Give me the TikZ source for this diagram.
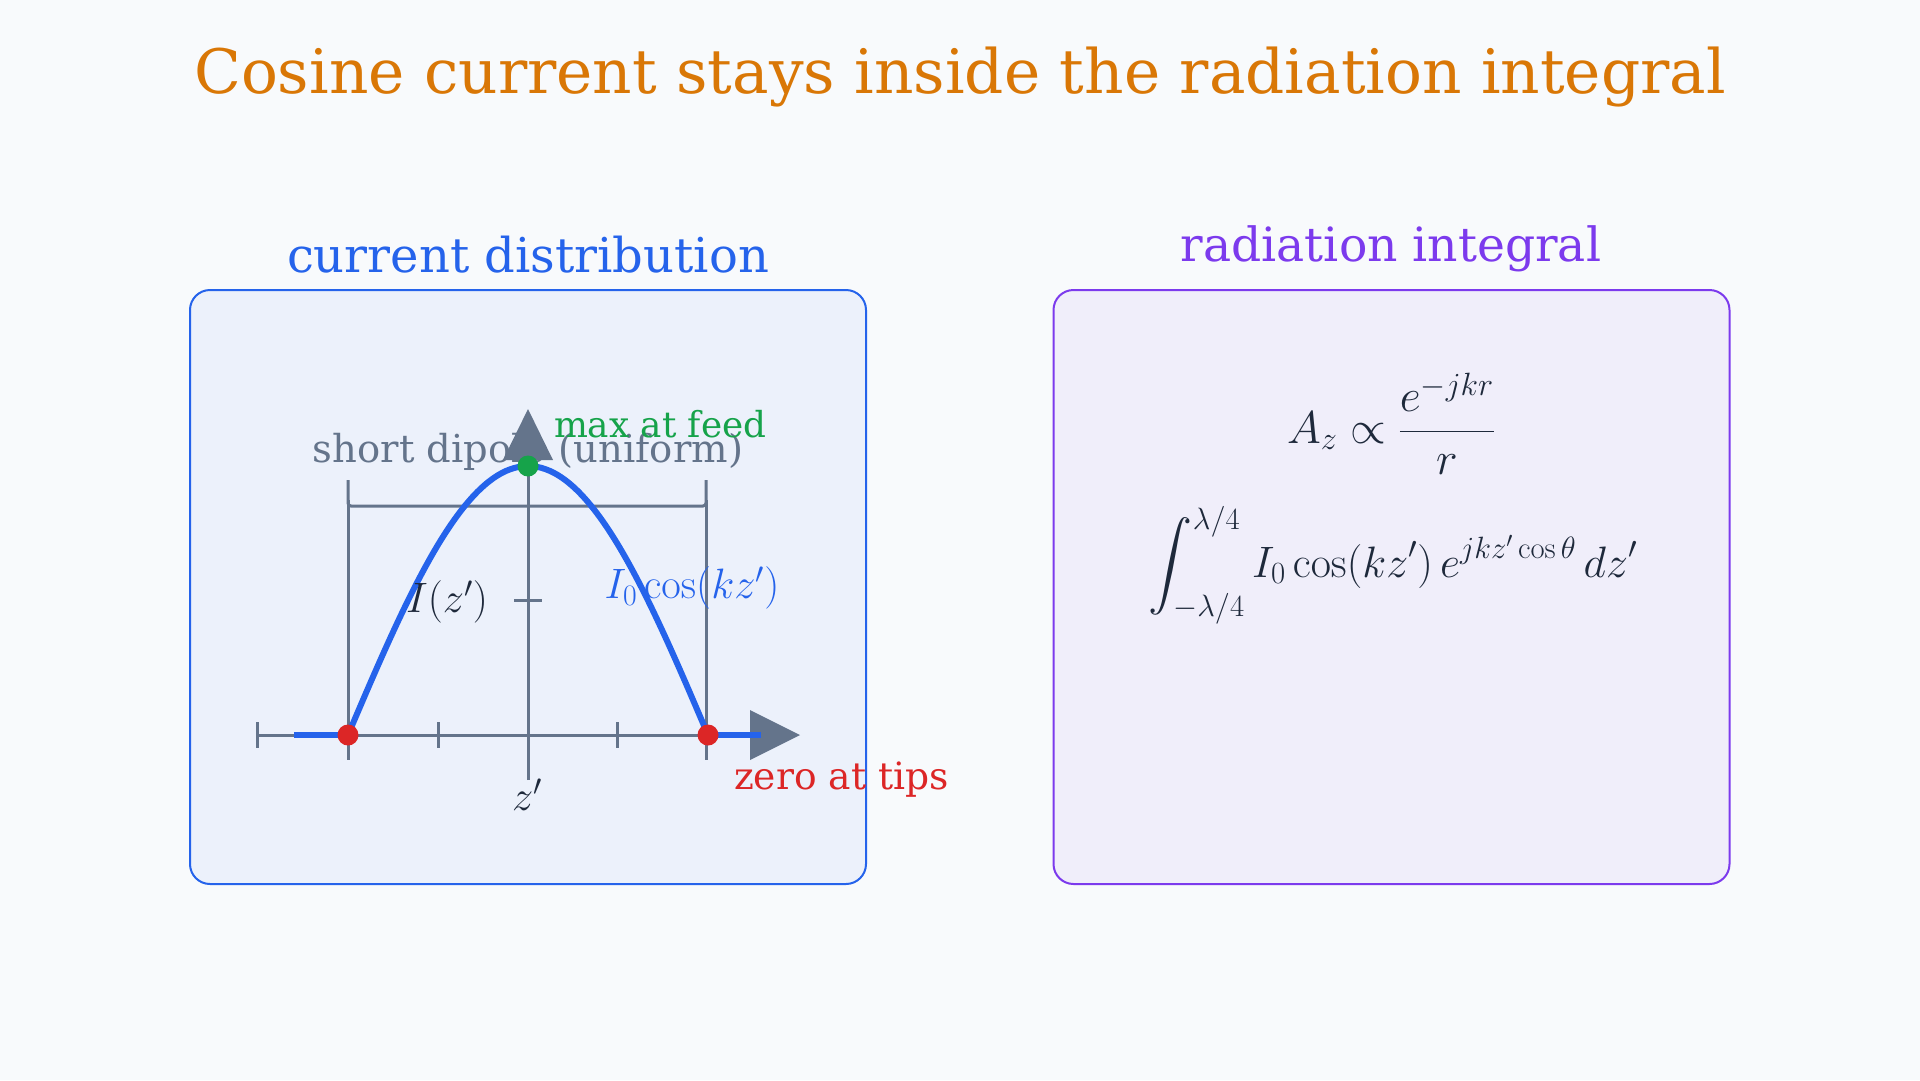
\RequirePackage{fix-cm}
\documentclass[tikz,border=0pt]{standalone}
\usepackage{amsmath}
\DeclareFontShape{OMX}{cmex}{m}{n}{<->cmex10}{}
\usepackage[no-math]{fontspec}
\setmainfont{DejaVu Serif}
\definecolor{cbg}{HTML}{F8FAFC}
\definecolor{corange}{HTML}{D97706}
\definecolor{cblue}{HTML}{2563EB}
\definecolor{cbluebg}{HTML}{ECF1FB}
\definecolor{cpurple}{HTML}{7C3AED}
\definecolor{cpurplebg}{HTML}{F0EEFA}
\definecolor{cgray}{HTML}{64748B}
\definecolor{cgreen}{HTML}{16A34A}
\definecolor{cred}{HTML}{DC2626}
\definecolor{cdark}{HTML}{1E293B}
\begin{document}
\begin{tikzpicture}[x=1pt,y=-1pt,
  lbl/.style={inner sep=0pt, outer sep=0pt},
  panel/.style={rounded corners=20pt, line width=2pt, minimum width=676pt, minimum height=594pt, inner sep=0pt},
  axisline/.style={draw=cgray, line width=3pt},
  curveline/.style={draw=cblue, line width=6pt},
  dot/.style={circle, inner sep=0pt, minimum size=21pt},
  bigfont/.style={font=\fontsize{61.3}{70}\selectfont},
  headfont/.style={font=\fontsize{48}{56}\selectfont},
  mathfont/.style={font=\fontsize{42.5}{50}\selectfont},
  eqfont/.style={font=\fontsize{44}{54}\selectfont}]
\fill[cbg] (0,0) rectangle (1920,1080);
\useasboundingbox (0,0) rectangle (1920,1080);

\node[lbl, anchor=base, text=corange, bigfont] (title) at (960,93) {Cosine current stays inside the radiation integral};

\node[panel, draw=cblue, fill=cbluebg] (lpanel) at (528,587) {};
\node[panel, draw=cpurple, fill=cpurplebg] (rpanel) at (1391.5,587) {};
\node[lbl, anchor=base, text=cblue, headfont] (ltitle) at (528,272) {current distribution};
\node[lbl, anchor=base, text=cpurple, font=\fontsize{47.2}{56}\selectfont] (rtitle) at (1391,261) {radiation integral};

% short dipole label and bracket
\node[lbl, anchor=base, text=cgray, font=\fontsize{38.5}{44}\selectfont] (short) at (528,462) {short dipole (uniform)};
\draw[axisline, rounded corners=3pt] (348,480) -- (348,506) -- (706,506) -- (706,480);
\draw[axisline] (348,500) -- (348,760);
\draw[axisline] (706,500) -- (706,760);

% axes
\draw[axisline] (257,735) -- (750,735);
\fill[cgray] (750,710) -- (800,735) -- (750,760) -- cycle;
\draw[axisline] (528,780) -- (528,460);
\fill[cgray] (503,460) -- (528,409) -- (553,460) -- cycle;
\foreach \tx in {257,438,617} \draw[axisline] (\tx,722) -- (\tx,748);
\draw[axisline] (514,600) -- (542,600);

% current
\draw[curveline] (294,735) -- (348,735);
\draw[curveline] (708,735) -- (761,735);
\draw[curveline] plot[domain=-1:1, samples=90, smooth] ({528+180*\x},{735-269*cos(90*\x)});

\node[dot, fill=cred] (tipL) at (348,735) {};
\node[dot, fill=cred] (tipR) at (708,735) {};
\node[dot, fill=cgreen] (feed) at (528,466) {};

\node[lbl, anchor=base west, text=cgreen, font=\fontsize{35.8}{44}\selectfont] (maxlbl) at (554,437) {max at feed};
\node[lbl, anchor=base west, text=cred, font=\fontsize{37.6}{44}\selectfont] (zerolbl) at (734,789) {zero at tips};
\node[lbl, text=cdark, mathfont] (Ilbl) at (447,602) {$I(z')$};
\node[lbl, text=cblue, mathfont] (coslbl) at (692,588) {$I_0\cos(kz')$};
\node[lbl, text=cdark, mathfont] (zlbl) at (527,795) {$z'$};

% right panel formulas
\node[lbl, anchor=base, text=cdark, font=\fontsize{46}{54}\selectfont] (Az) at (1391,443) {$\displaystyle A_z \propto \frac{e^{-jkr}}{r}$};
\node[lbl, anchor=base, text=cdark, eqfont] (integral) at (1393,577) {$\displaystyle\int_{-\lambda/4}^{\lambda/4} I_0\cos(kz')\,e^{jkz'\cos\theta}\,dz'$};
\end{tikzpicture}
\end{document}
